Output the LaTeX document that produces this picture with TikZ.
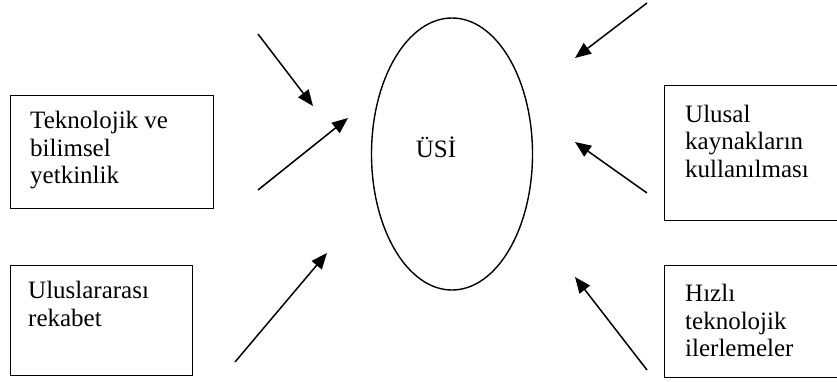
\documentclass[tikz,border=0pt]{standalone}
\usepackage{fontspec}
\setmainfont{Liberation Serif}
\usetikzlibrary{arrows.meta,shapes.geometric}
\begin{document}
\begin{tikzpicture}[x=1pt,y=-1pt,
  box/.style={draw,line width=1.4pt,rectangle,inner sep=0pt,anchor=north west},
  lbl/.style={anchor=north west,inner sep=0pt,align=left,font=\fontsize{25}{27.5}\selectfont},
  arr/.style={line width=1.5pt,-{Triangle[length=16pt,width=13pt]}}]
\useasboundingbox (0,0) rectangle (837,381);
\clip (0,0) rectangle (837,381);
% boxes
\node[box,minimum width=203pt,minimum height=113pt] (b1) at (10,95) {};
\node[box,minimum width=182pt,minimum height=110pt] (b2) at (10,265) {};
\node[box,minimum width=190pt,minimum height=135pt] (b3) at (664,85) {};
\node[box,minimum width=190pt,minimum height=112pt] (b4) at (664,265) {};
% labels
\node[lbl] (t1) at (30,111) {Teknolojik ve\\bilimsel\\yetkinlik};
\node[lbl] (t2) at (28,281) {Uluslararası\\rekabet};
\node[lbl] (t3) at (685,104.5) {Ulusal\\kaynakların\\kullanılması};
\node[lbl] (t4) at (685,284) {Hızlı\\teknolojik\\ilerlemeler};
% ellipse
\node[draw,ellipse,line width=1.4pt,minimum width=161pt,minimum height=272pt,inner sep=0pt] (usi) at (452,154) {};
\node[anchor=base,inner sep=0pt,font=\fontsize{25}{27.5}\selectfont] (usilbl) at (436,157) {ÜSİ};
% arrows
\coordinate (a1s) at (258,34);  \coordinate (a1e) at (313,106);
\coordinate (a2s) at (258,190); \coordinate (a2e) at (348,118);
\coordinate (a3s) at (235,362); \coordinate (a3e) at (327,253);
\coordinate (a4s) at (647,3);   \coordinate (a4e) at (575,58);
\coordinate (a5s) at (647,193); \coordinate (a5e) at (575,142);
\coordinate (a6s) at (647,370); \coordinate (a6e) at (575,277);
\draw[arr] (a1s) -- (a1e);
\draw[arr] (a2s) -- (a2e);
\draw[arr] (a3s) -- (a3e);
\draw[arr] (a4s) -- (a4e);
\draw[arr] (a5s) -- (a5e);
\draw[arr] (a6s) -- (a6e);
\end{tikzpicture}
\end{document}
